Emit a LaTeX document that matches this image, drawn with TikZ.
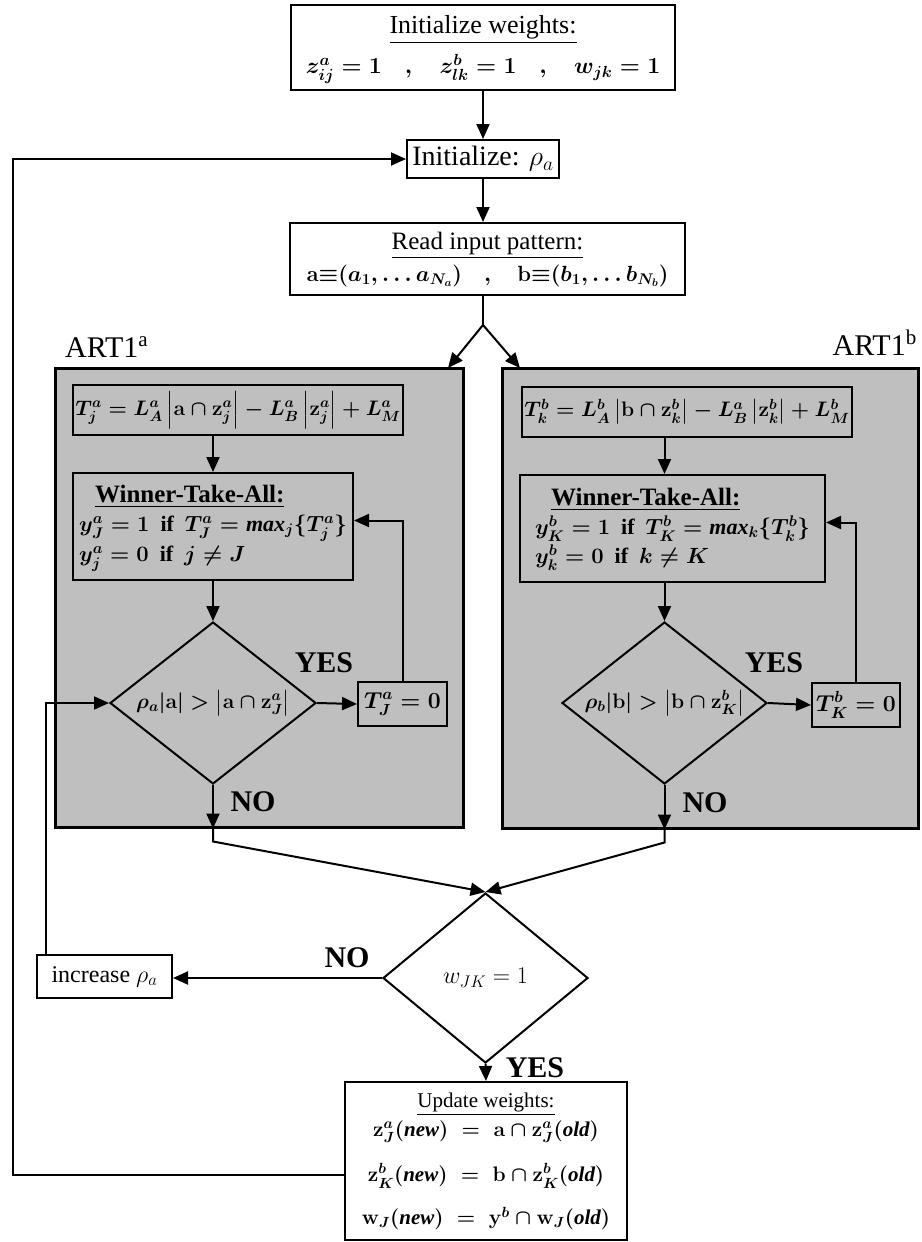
\RequirePackage{fix-cm}
\documentclass[tikz,border=0pt]{standalone}
\usepackage{amsmath}
\usepackage{fontspec}
\setmainfont{Liberation Serif}
\usetikzlibrary{arrows.meta,shapes.geometric,calc}
\newcommand\fsz[2]{\fontsize{#1}{#2}\selectfont}
\tikzset{
  flowbox/.style={draw, line width=2pt, inner sep=2pt},
  artbox/.style={draw, line width=3pt, fill=black!25},
  dia/.style={draw, diamond, line width=2pt, inner sep=0pt, aspect=1.27},
  arr/.style={line width=2pt, -{Triangle[length=15pt,width=13pt]}},
  conn/.style={line width=2pt},
  yn/.style={font=\fsz{30}{34}\bfseries, inner sep=0pt},
}
\begin{document}
\begin{tikzpicture}[x=1pt,y=-1pt]
\useasboundingbox (0,0) rectangle (921,1242);
% grey ART boxes
\node[artbox, minimum width=408pt, minimum height=459pt] (artA) at (259,597.5) {};
\node[artbox, minimum width=416pt, minimum height=460pt] (artB) at (710,598) {};
\node[anchor=base west, font=\fsz{30}{34}, inner sep=0pt] (labA) at (65,357) {ART1\textsuperscript{a}};
\node[anchor=base east, font=\fsz{30}{34}, inner sep=0pt] (labB) at (917,355) {ART1\textsuperscript{b}};
% top part
\node[flowbox, minimum width=384pt, minimum height=85pt, font=\fsz{26}{32}\boldmath] (initw) at (483,47.5)
  {\begin{tabular}{@{}c@{}}\underline{Initialize weights:}\\[8pt]{\fsz{23}{28}$z^{a}_{ij} = 1 \quad , \quad z^{b}_{lk} = 1 \quad , \quad w_{jk} = 1$}\end{tabular}};
\node[flowbox, minimum width=152pt, minimum height=38pt, inner sep=1pt, font=\fsz{28}{32}] (initr) at (483,159)
  {Initialize: $\rho_a$};
\node[flowbox, minimum width=395pt, minimum height=72pt, font=\fsz{25}{30}\boldmath] (readp) at (487.5,259)
  {\begin{tabular}{@{}c@{}}\underline{Read input pattern:}\\[2pt]{\fsz{22}{26}$\mathbf{a}{\equiv}(a_1,\ldots a_{N_a})\quad , \quad\mathbf{b}{\equiv}(b_1,\ldots b_{N_b})$}\end{tabular}};
% ART1a
\node[flowbox, minimum width=330pt, minimum height=50pt, font=\fsz{21}{26}\boldmath] (TA) at (238,410)
  {$T^a_j = L^a_A\left|\mathbf{a}\cap\mathbf{z}^a_j\right| - L^a_B\left|\mathbf{z}^a_j\right| + L^a_M$};
\node[flowbox, minimum width=280pt, minimum height=107pt, font=\fsz{22}{29}\bfseries\boldmath] (WA) at (213,526.5)
  {\begin{tabular}{@{}l@{}}\hspace*{16pt}{\fsz{25}{29}\underline{Winner-Take-All:}}\\
   $y^a_J = 1$ \ if \ $T^a_J = \mathit{max}_j\{T^a_j\}$\\
   $y^a_j = 0$ \ if \ $j \neq J$\end{tabular}};
\node[dia, minimum width=206pt, minimum height=162pt, font=\fsz{21}{25}\boldmath] (dA) at (213,703)
  {$\rho_a|\mathbf{a}| > \left|\mathbf{a}\cap\mathbf{z}^a_J\right|$};
\node[flowbox, minimum width=89pt, minimum height=44pt, font=\fsz{23}{27}\boldmath] (zA) at (402.5,704) {$T^a_J = 0$};
% ART1b
\node[flowbox, minimum width=330pt, minimum height=50pt, font=\fsz{21}{26}\boldmath] (TB) at (687,411.5)
  {$T^b_k = L^b_A\left|\mathbf{b}\cap\mathbf{z}^b_k\right| - L^a_B\left|\mathbf{z}^b_k\right| + L^b_M$};
\node[flowbox, minimum width=305pt, minimum height=107pt, font=\fsz{22}{29}\bfseries\boldmath] (WB) at (672.5,528.5)
  {\begin{tabular}{@{}l@{}}\hspace*{16pt}{\fsz{25}{29}\underline{Winner-Take-All:}}\\
   $y^b_K = 1$ \ if \ $T^b_K = \mathit{max}_k\{T^b_k\}$\\
   $y^b_k = 0$ \ if \ $k \neq K$\end{tabular}};
\node[dia, minimum width=205pt, minimum height=162pt, font=\fsz{21}{25}\boldmath] (dB) at (664.5,703)
  {$\rho_b|\mathbf{b}| > \left|\mathbf{b}\cap\mathbf{z}^b_K\right|$};
\node[flowbox, minimum width=88pt, minimum height=44pt, font=\fsz{23}{27}\boldmath] (zB) at (856,705) {$T^b_K = 0$};
% bottom part
\node[dia, minimum width=205pt, minimum height=170pt, font=\fsz{24}{28}] (wjk) at (485.5,978) {$w_{JK} = 1$};
\node[flowbox, minimum width=135pt, minimum height=43pt, font=\fsz{24}{28}] (incr) at (104.5,976.5) {increase $\rho_a$};
\node[flowbox, minimum width=282pt, minimum height=158pt, font=\fsz{21}{25}\boldmath] (upd) at (486,1161)
  {\begin{tabular}{@{}c@{}}{\fsz{21}{24}\underline{Update weights:}}\\[4pt]
   $\mathbf{z}^a_J(\mathit{new}) \;=\; \mathbf{a}\cap\mathbf{z}^a_J(\mathit{old})$\\[20pt]
   $\mathbf{z}^b_K(\mathit{new}) \;=\; \mathbf{b}\cap\mathbf{z}^b_K(\mathit{old})$\\[18pt]
   $\mathbf{w}_J(\mathit{new}) \;=\; \mathbf{y}^b\cap\mathbf{w}_J(\mathit{old})$\end{tabular}};
% labels
\node[yn] (yesA) at (324,663) {YES};
\node[yn] (yesB) at (774,663) {YES};
\node[yn] (noA) at (253,802) {NO};
\node[yn] (noB) at (705,803) {NO};
\node[yn] (noW) at (347,958) {NO};
\node[yn] (yesW) at (535,1068) {YES};
% coordinates
\coordinate (split) at (483,325);
\coordinate (inA) at (448,368);
\coordinate (inB) at (520,368);
\coordinate (outA) at (dA.south |- artA.south);
\coordinate (outB) at (dB.south |- artB.south);
\coordinate (cornerBL) at (13,1175);
\coordinate (updL) at (upd.west |- cornerBL);
\coordinate (loopA) at ($(incr.north west)+(10,0)$);
% connectors
\draw[arr] (initw.south) -- (initr.north);
\draw[arr] (initr.south) -- (initr.south |- readp.north);
\draw[conn] (initr.south |- readp.south) -- (split);
\draw[arr] (split) -- (inA);
\draw[arr] (split) -- (inB);
\draw[arr] (TA.south -| WA.north) -- (WA.north);
\draw[arr] (WA.south) -- (dA.north);
\draw[arr] (dA.east) -- (zA.west);
\draw[arr] (zA.north) |- ($(WA.east)+(0,-6)$);
\draw[arr] (TB.south -| dB.north) -- (WB.north -| dB.north);
\draw[arr] (WB.south -| dB.north) -- (dB.north);
\draw[arr] (dB.east) -- (zB.west);
\draw[arr] (zB.north) |- ($(WB.east)+(0,-6)$);
\draw[arr] (dA.south) -- (outA);
\draw[arr] (dB.south) -- (outB);
\draw[arr] (outA) -- ++(0,13) -- (wjk.north);
\draw[arr] (outB) -- ++(0,13) -- (wjk.north);
\draw[arr] (wjk.south) -- (upd.north);
\draw[arr] (wjk.west) -- (wjk.west -| incr.east);
\draw[arr] (loopA) |- (dA.west);
\draw[arr] (updL) -- (cornerBL) |- (initr.west);
\end{tikzpicture}
\end{document}
